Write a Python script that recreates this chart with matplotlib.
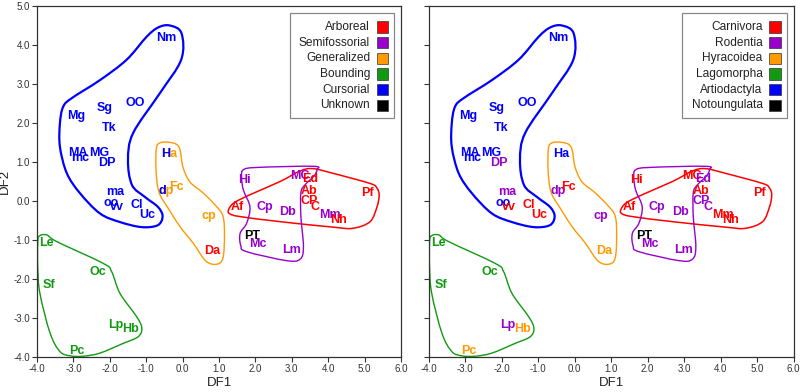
import matplotlib
matplotlib.use("Agg")
import matplotlib.pyplot as plt
import numpy as np
from matplotlib.path import Path
from matplotlib.patches import PathPatch, Rectangle

plt.rcParams['font.family'] = ['Liberation Sans', 'DejaVu Sans']

# specimen labels and DF scores
labels = ["Nm", "Mg", "Sg", "OO", "Tk", "MA", "mc", "MG", "DP", "Ha", "ma", "dp",
          "Fc", "oo", "vv", "Cl", "Uc", "cp", "Da", "Hi", "MC", "Ed", "Ab", "CP",
          "C", "Mm", "Nh", "Pf", "Af", "Cp", "Db", "PT", "Mc", "Lm", "Le", "Oc",
          "Sf", "Lp", "Hb", "Pc"]
df1 = [-0.46, -2.93, -2.15, -1.31, -2.02, -2.88, -2.82, -2.30, -2.07, -0.37, -1.85, -0.46,
       -0.16, -1.95, -1.79, -1.26, -0.97, 0.71, 0.80, 1.70, 3.21, 3.51, 3.46, 3.48,
       3.64, 4.05, 4.27, 5.07, 1.49, 2.26, 2.89, 1.90, 2.06, 2.98, -3.75, -2.32,
       -3.66, -1.83, -1.42, -2.91]
df2 = [4.19, 2.18, 2.38, 2.52, 1.86, 1.22, 1.09, 1.22, 0.97, 1.21, 0.23, 0.25,
       0.37, -0.06, -0.16, -0.10, -0.36, -0.38, -1.27, 0.54, 0.65, 0.56, 0.26, 0.00,
       -0.15, -0.36, -0.49, 0.21, -0.16, -0.16, -0.29, -0.90, -1.11, -1.26, -1.08, -1.81,
       -2.15, -3.18, -3.29, -3.84]

# locomotion group per label ("X|Y" = first letter X, rest Y)
loco = ["Cursorial"] * 9 + ["Cursorial|Generalized", "Cursorial", "Cursorial|Generalized",
        "Generalized", "Cursorial", "Cursorial", "Cursorial", "Cursorial", "Generalized",
        "Arboreal", "Semifossorial", "Semifossorial", "Arboreal", "Arboreal", "Arboreal",
        "Arboreal", "Semifossorial", "Arboreal", "Arboreal", "Arboreal", "Semifossorial",
        "Semifossorial", "Unknown", "Semifossorial", "Semifossorial"] + ["Bounding"] * 6

order = ["Artiodactyla"] * 8 + ["Rodentia", "Artiodactyla", "Rodentia", "Rodentia",
         "Carnivora", "Artiodactyla", "Carnivora", "Carnivora", "Carnivora", "Rodentia",
         "Hyracoidea", "Carnivora", "Carnivora", "Rodentia", "Carnivora", "Rodentia",
         "Rodentia", "Carnivora", "Carnivora", "Carnivora", "Carnivora", "Rodentia",
         "Rodentia", "Notoungulata", "Rodentia", "Rodentia", "Lagomorpha", "Lagomorpha",
         "Lagomorpha", "Rodentia", "Hyracoidea", "Hyracoidea"]

loco_names = ["Arboreal", "Semifossorial", "Generalized", "Bounding", "Cursorial", "Unknown"]
order_names = ["Carnivora", "Rodentia", "Hyracoidea", "Lagomorpha", "Artiodactyla", "Notoungulata"]
palette = ["#ff0000", "#9900cc", "#ff9900", "#119911", "#0000ff", "#000000"]

# group outlines (DF1, DF2)
hull_blue_x = [-0.35, -0.03, -0.04, -0.62, -1.36, -1.50, -1.39, -1.03, -0.68, -0.55, -0.68,
               -1.12, -1.72, -2.27, -2.82, -3.18, -3.37, -3.37, -3.28, -3.04, -2.27, -1.54,
               -0.99, -0.67]
hull_blue_y = [4.50, 4.30, 3.62, 2.77, 1.74, 1.05, 0.41, 0.10, -0.15, -0.39, -0.62,
               -0.67, -0.54, -0.32, 0.20, 0.71, 1.39, 1.99, 2.42, 2.64, 3.10, 3.62,
               4.21, 4.45]
hull_orange_x = [-0.43, -0.18, -0.07, 0.01, 0.20, 0.56, 0.92, 1.11, 1.15, 1.11, 0.94, 0.64,
                 0.29, -0.07, -0.40, -0.65, -0.73, -0.72, -0.62]
hull_orange_y = [1.51, 1.46, 1.31, 0.87, 0.49, 0.21, -0.13, -0.39, -0.87, -1.46, -1.62,
                 -1.54, -1.08, -0.66, -0.18, 0.23, 0.80, 1.36, 1.49]
hull_red_x = [1.26, 1.41, 1.85, 2.68, 3.23, 3.58, 4.13, 5.15, 5.34, 5.40, 5.34, 5.15, 4.68,
              4.13, 2.68, 1.58, 1.30]
hull_red_y = [-0.23, -0.05, 0.16, 0.50, 0.77, 0.83, 0.71, 0.45, 0.33, 0.15, -0.15, -0.53,
              -0.70, -0.67, -0.53, -0.40, -0.33]
hull_purple_x = [1.67, 2.04, 3.59, 3.69, 3.61, 3.36, 3.25, 3.25, 3.32, 3.23, 2.86, 1.76,
                 1.60, 1.58, 1.76, 1.85, 1.67, 1.62]
hull_purple_y = [0.80, 0.86, 0.89, 0.80, 0.64, 0.41, 0.21, -0.40, -1.17, -1.49, -1.53,
                 -1.30, -1.15, -0.83, -0.57, -0.15, 0.28, 0.62]
hull_green_x = [-3.94, -3.73, -3.46, -2.18, -1.95, -1.72, -1.26, -1.12, -1.22, -1.63, -2.27,
                -2.73, -3.09, -3.37, -3.64, -3.92, -3.98, -3.98]
hull_green_y = [-0.90, -0.87, -1.04, -1.60, -1.81, -2.37, -2.97, -3.26, -3.48, -3.65, -3.90,
                -3.98, -3.97, -3.86, -3.39, -2.37, -1.68, -1.09]

hulls = [(hull_blue_x, hull_blue_y, "#0000ff", 1.6),
         (hull_orange_x, hull_orange_y, "#ff9900", 1.0),
         (hull_red_x, hull_red_y, "#ff0000", 1.1),
         (hull_purple_x, hull_purple_y, "#9900cc", 1.0),
         (hull_green_x, hull_green_y, "#119911", 1.0)]


def smooth_closed(xs, ys):
    pts = np.column_stack([xs, ys])
    n = len(pts)
    verts = [pts[0]]
    codes = [Path.MOVETO]
    for i in range(n):
        p0, p1, p2, p3 = pts[i - 1], pts[i], pts[(i + 1) % n], pts[(i + 2) % n]
        verts += [p1 + (p2 - p0) / 6, p2 - (p3 - p1) / 6, p2]
        codes += [Path.CURVE4] * 3
    return Path(verts, codes)


def draw_panel(ax, groups, names, show_ylab):
    cmap = dict(zip(names, palette))
    for hx, hy, col, lw in hulls:
        ax.add_patch(PathPatch(smooth_closed(hx, hy), fill=False, edgecolor=col, lw=lw))
    for lab, x, y, g in zip(labels, df1, df2, groups):
        parts = g.split("|")
        t = ax.text(x, y, lab, color=cmap[parts[-1]], fontsize=9, fontweight="bold",
                    ha="center", va="center")
        if len(parts) == 2:
            ax.annotate(lab[0], xy=(0, 0), xycoords=t, color=cmap[parts[0]], fontsize=9,
                        fontweight="bold", ha="left", va="bottom")

    ax.set_xlim(-4, 6)
    ax.set_ylim(-4, 5)
    ax.set_xticks(np.arange(-4, 7))
    ax.set_yticks(np.arange(-4, 6))
    ax.set_xticklabels([f"{v:.1f}" for v in np.arange(-4, 7)])
    if show_ylab:
        ax.set_yticklabels([f"{v:.1f}" for v in np.arange(-4, 6)])
        ax.set_ylabel("DF2", fontsize=9.5, color="#222222", labelpad=2)
    else:
        ax.set_yticklabels([])
    ax.set_xlabel("DF1", fontsize=9.5, color="#222222", labelpad=2)
    ax.tick_params(direction="out", length=3.5, width=0.8, colors="#333333",
                   labelsize=7, pad=1.5)
    for s in ax.spines.values():
        s.set_color("#333333")
        s.set_linewidth(0.9)

    # legend box
    ax.add_patch(Rectangle((0.695, 0.68), 0.287, 0.30, transform=ax.transAxes,
                           fill=False, edgecolor="#888888", lw=0.9))
    for i, (nm, col) in enumerate(zip(names, palette)):
        yy = 0.94 - i * 0.0445
        ax.text(0.915, yy, nm, transform=ax.transAxes, ha="right", va="center",
                fontsize=8.6, color="#222222")
        ax.add_patch(Rectangle((0.933, yy - 0.016), 0.032, 0.032, transform=ax.transAxes,
                               facecolor=col, edgecolor="#333333", lw=0.5))


fig = plt.figure(figsize=(8, 3.92), dpi=100)
ax1 = fig.add_axes([0.04625, 0.0893, 0.455, 0.8954])
ax2 = fig.add_axes([0.536, 0.0893, 0.456, 0.8954])
draw_panel(ax1, loco, loco_names, True)
draw_panel(ax2, order, order_names, False)

fig.savefig("out.png", dpi=100)
